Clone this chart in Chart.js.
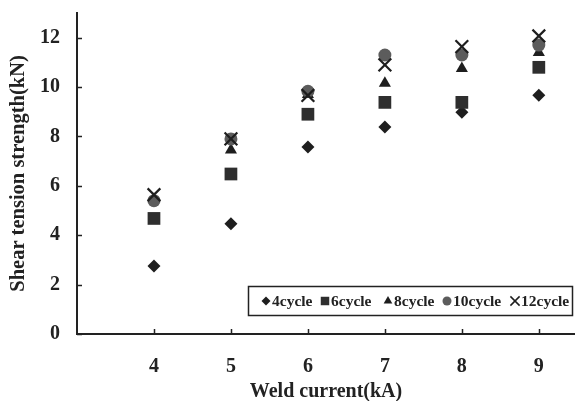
<!DOCTYPE html>
<html><head><meta charset="utf-8">
<script src="https://cdn.jsdelivr.net/npm/chart.js@4/dist/chart.umd.min.js"></script>
<style>html,body{margin:0;padding:0;background:#fff}#wrap{width:575px;height:401px;position:relative}</style>
</head><body><div id="wrap"><canvas id="c"></canvas></div>
<script>
const currents = [4, 5, 6, 7, 8, 9];
const cycle4 = [2.75, 4.47, 7.57, 8.38, 8.98, 9.67];
const cycle6 = [4.68, 6.48, 8.9, 9.38, 9.38, 10.8];
const cycle8 = [5.45, 7.45, 9.7, 10.15, 10.75, 11.4];
const cycle10 = [5.4, 7.9, 9.83, 11.3, 11.3, 11.7];
const cycle12 = [5.64, 7.9, 9.66, 10.9, 11.64, 12.07];
const seriesLabels = ['4cycle', '6cycle', '8cycle', '10cycle', '12cycle'];
const yTickValues = [0, 2, 4, 6, 8, 10, 12];
const xTickValues = [4, 5, 6, 7, 8, 9];
const xTitle = 'Weld current(kA)';
const yTitle = 'Shear tension strength(kN)';

const FONT = '"Liberation Serif", "Times New Roman", serif';
const toPts = arr => arr.map((v, i) => ({x: currents[i], y: v}));

const styles = [
  {pointStyle: 'rectRot', radius: 6.5, color: '#1e1e1e', lr: 4.5},
  {pointStyle: 'rect', radius: 9, color: '#2e2e2e', lr: 6},
  {pointStyle: 'triangle', radius: 7, color: '#1e1e1e', lr: 5},
  {pointStyle: 'circle', radius: 6.5, color: '#5c5c5c', lr: 4.5},
  {pointStyle: 'crossRot', radius: 9, color: '#1e1e1e', lr: 6.5}
];
const seriesData = [cycle4, cycle6, cycle8, cycle10, cycle12];

const datasets = seriesData.map((d, i) => ({
  label: seriesLabels[i],
  data: toPts(d),
  pointStyle: styles[i].pointStyle,
  pointRadius: styles[i].radius,
  pointHoverRadius: styles[i].radius,
  backgroundColor: styles[i].color,
  borderColor: styles[i].color,
  pointBorderWidth: styles[i].pointStyle === 'crossRot' ? 2.2 : 0,
  order: 5 - i,
  showLine: false
}));

const fixArea = {
  id: 'fixArea',
  afterLayout(chart) {
    const xs = chart.scales.x;
    chart.chartArea.right = 575;
    chart.chartArea.width = 575 - chart.chartArea.left;
    xs.right = 575;
    xs.width = 575 - xs.left;
    xs.configure();
  }
};

const tickMarks = {
  id: 'tickMarks',
  afterDraw(chart) {
    const ctx = chart.ctx, xs = chart.scales.x, ys = chart.scales.y;
    ctx.save();
    ctx.strokeStyle = '#222';
    ctx.lineWidth = 1.5;
    ctx.beginPath();
    yTickValues.forEach(v => {
      const y = Math.round(ys.getPixelForValue(v)) + 0.5;
      ctx.moveTo(xs.left, y); ctx.lineTo(xs.left + 5, y);
    });
    xTickValues.forEach(v => {
      const x = Math.round(xs.getPixelForValue(v)) + 0.5;
      ctx.moveTo(x, ys.bottom); ctx.lineTo(x, ys.bottom - 5);
    });
    ctx.stroke();
    ctx.restore();
  }
};

const legendMarkerX = [266, 325, 388, 447, 515];
const boxLegend = {
  id: 'boxLegend',
  afterDraw(chart) {
    const ctx = chart.ctx;
    const bx = 248, by = 286, bw = 324, bh = 29;
    ctx.save();
    ctx.fillStyle = '#fff';
    ctx.fillRect(bx, by, bw, bh);
    ctx.strokeStyle = '#222';
    ctx.lineWidth = 1.5;
    ctx.strokeRect(bx + 0.5, by + 0.5, bw, bh);
    ctx.font = 'bold 15.5px ' + FONT;
    ctx.textBaseline = 'middle';
    ctx.textAlign = 'left';
    const cy = by + bh / 2 + 0.5;
    chart.data.datasets.forEach((ds, i) => {
      const st = styles[i];
      const mx = legendMarkerX[i];
      ctx.fillStyle = st.color;
      ctx.strokeStyle = st.color;
      Chart.helpers.drawPoint(ctx, {
        pointStyle: st.pointStyle, radius: st.lr, rotation: 0,
        borderWidth: st.pointStyle === 'crossRot' ? 1.6 : 0
      }, mx, cy);
      ctx.fillStyle = '#222';
      ctx.fillText(ds.label, mx + 6, cy + 1);
    });
    ctx.restore();
  }
};

new Chart(document.getElementById('c'), {
  type: 'scatter',
  data: {datasets},
  options: {
    responsive: true,
    maintainAspectRatio: false,
    animation: false,
    layout: {padding: {top: 13, right: 0, left: 0, bottom: 0}},
    plugins: {legend: {display: false}, tooltip: {enabled: false}},
    scales: {
      x: {
        type: 'linear', min: 3, max: 9.47,
        afterFit(s) { s.height = 67; s.paddingLeft = 0; s.paddingRight = 0; },
        ticks: {
          stepSize: 1, includeBounds: false, padding: 21,
          color: '#222', font: {family: FONT, size: 20, weight: 'bold'},
          callback: v => xTickValues.includes(v) ? String(v) : ''
        },
        grid: {display: false, drawTicks: false},
        border: {display: true, color: '#222', width: 2},
        title: {display: true, text: xTitle, color: '#222',
          font: {family: FONT, size: 20, weight: 'bold'}, padding: {top: 0, bottom: -3}}
      },
      y: {
        type: 'linear', min: 0, max: 13,
        afterFit(s) { s.width = 77; s.paddingTop = 0; s.paddingBottom = 0; },
        ticks: {
          stepSize: 2, includeBounds: false, padding: 17,
          color: '#222', font: {family: FONT, size: 20, weight: 'bold'},
          callback: v => yTickValues.includes(v) ? String(v) : ''
        },
        grid: {display: false, drawTicks: false},
        border: {display: true, color: '#222', width: 2},
        title: {display: true, text: yTitle, color: '#222',
          font: {family: FONT, size: 20.5, weight: 'bold'}, padding: {top: 6, bottom: 0}}
      }
    }
  },
  plugins: [fixArea, tickMarks, boxLegend]
});
</script>
</body></html>
